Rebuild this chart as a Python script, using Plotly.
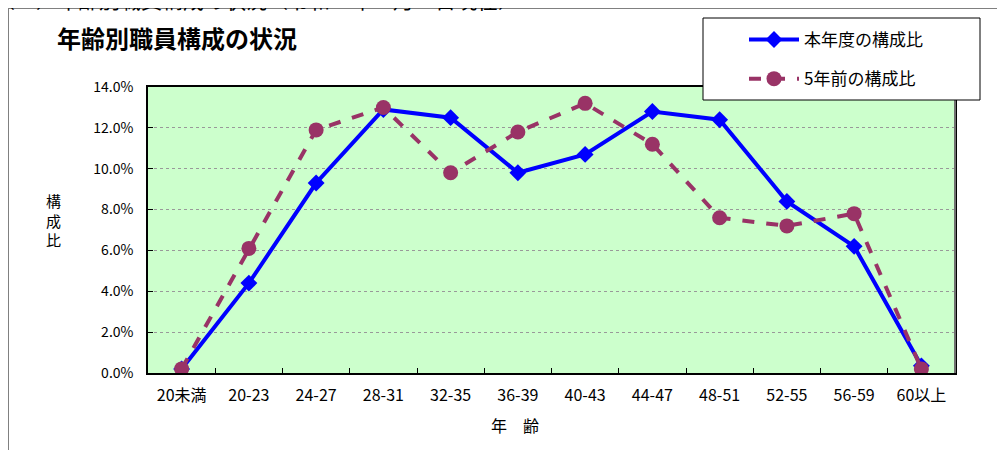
import plotly.graph_objects as go

categories = ["20未満", "20-23", "24-27", "28-31", "32-35", "36-39",
              "40-43", "44-47", "48-51", "52-55", "56-59", "60以上"]
current_ratio = [0.2, 4.4, 9.3, 12.9, 12.5, 9.8, 10.7, 12.8, 12.4, 8.4, 6.2, 0.35]
five_years_ago = [0.2, 6.1, 11.9, 13.0, 9.8, 11.8, 13.2, 11.2, 7.6, 7.2, 7.8, 0.2]
y_ticks = [0, 2, 4, 6, 8, 10, 12, 14]
y_tick_labels = ["0.0%", "2.0%", "4.0%", "6.0%", "8.0%", "10.0%", "12.0%", "14.0%"]

FONT = "Noto Sans CJK JP"

fig = go.Figure()
fig.add_trace(go.Scatter(
    x=categories, y=current_ratio, name="本年度の構成比", mode="lines+markers",
    line=dict(color="#0000FF", width=4),
    marker=dict(symbol="diamond", size=13, color="#0000FF"),
    legendgroup="a",
))
fig.add_trace(go.Scatter(
    x=categories, y=five_years_ago, name="5年前の構成比", mode="lines+markers",
    line=dict(color="#993366", width=4, dash="dash"),
    marker=dict(symbol="circle", size=15, color="#993366"),
    legendgroup="b",
))

# page body has an 8px margin; figure placed at (8, 8)
OFF = 8
W, H = 997, 442
L, T = 148 - OFF, 87 - OFF
R = W - (955 - OFF)
B = H - (373 - OFF)
pw, ph = W - L - R, H - T - B


def px(x):
    return (x - OFF - L) / pw


def py(y):
    return (H - B - (y - OFF)) / ph


fig.update_layout(
    width=W, height=H,
    margin=dict(l=L, r=R, t=T, b=B),
    paper_bgcolor="white",
    plot_bgcolor="#CCFFCC",
    font=dict(family=FONT, color="black", size=14),
    showlegend=True,
    legend=dict(
        x=px(744), y=py(22), xanchor="left", yanchor="top",
        bgcolor="rgba(0,0,0,0)", borderwidth=0,
        font=dict(size=17, family=FONT),
        tracegroupgap=14, itemwidth=50,
    ),
    xaxis=dict(
        type="category", showgrid=False,
        ticks="inside", tickson="boundaries", ticklen=5, tickcolor="black",
        showline=True, linecolor="black", linewidth=1.5, mirror=True,
        tickfont=dict(size=16, family=FONT),
        ticklabelstandoff=7,
        range=[-0.5, len(categories) - 0.5],
    ),
    yaxis=dict(
        range=[0, 14], tickvals=y_ticks, ticktext=y_tick_labels,
        showgrid=True, gridcolor="#999999", griddash="dot", gridwidth=1,
        ticks="inside", ticklen=5, tickcolor="black",
        showline=True, linecolor="black", linewidth=1.5, mirror=True,
        tickfont=dict(size=14, family=FONT),
        ticklabelstandoff=10,
        zeroline=False,
    ),
)

fig.add_annotation(text="<b>年齢別職員構成の状況</b>", xref="paper", yref="paper",
                   x=px(55), y=py(37), xanchor="left", yanchor="middle",
                   showarrow=False, font=dict(size=24, family=FONT))
fig.add_annotation(text="構<br>成<br>比", xref="paper", yref="paper",
                   x=px(53), y=py(220), xanchor="center", yanchor="middle",
                   showarrow=False, font=dict(size=15, family=FONT))
fig.add_annotation(text="年　齢", xref="paper", yref="paper",
                   x=px(515), y=py(425), xanchor="center", yanchor="middle",
                   showarrow=False, font=dict(size=16, family=FONT))
fig.add_annotation(text="（２）年齢別職員構成の状況（令和５年４月１日現在）", xref="paper", yref="paper",
                   x=px(-8), y=py(-1), xanchor="left", yanchor="middle",
                   showarrow=False, font=dict(size=21, family=FONT))

# outer frame
fig.add_shape(type="line", xref="paper", yref="paper",
              x0=px(8), x1=px(1010), y0=py(8), y1=py(8),
              line=dict(color="#808080", width=2))
fig.add_shape(type="line", xref="paper", yref="paper",
              x0=px(8), x1=px(8), y0=py(8), y1=py(455),
              line=dict(color="#808080", width=2))
# grey right edge of plot area
fig.add_shape(type="line", xref="paper", yref="paper", layer="above",
              x0=1, x1=1, y0=0, y1=1,
              line=dict(color="#707070", width=2))
# legend box
fig.add_shape(type="rect", xref="paper", yref="paper", layer="above",
              x0=px(703), x1=px(980), y0=py(18), y1=py(100),
              fillcolor="white", line=dict(color="black", width=1))

fig.write_html("out.html")
